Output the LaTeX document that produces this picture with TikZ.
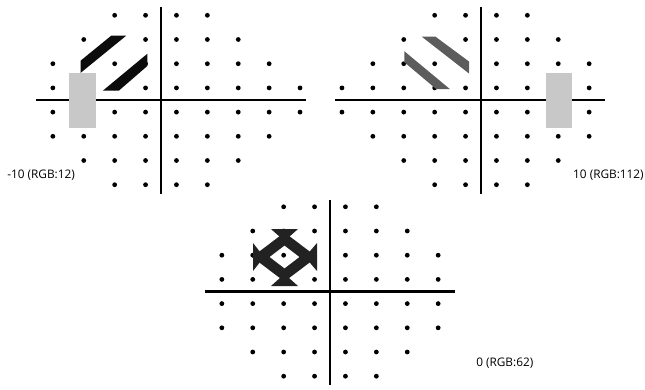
\documentclass[tikz,border=0pt]{standalone}
\usepackage{fontspec}
\setmainfont{Open Sans}
\usepackage{xcolor}
\usepackage{tikz}
\definecolor{VFBlack} {HTML}{0C0C0C}
\definecolor{VFMid}   {HTML}{5C5C5C}
\definecolor{VFDark}  {HTML}{222222}
\definecolor{VFPatch} {HTML}{C8C8C8}

\begin{document}
\begin{tikzpicture}[x=0.025cm,y=-0.025cm,
    ax/.style={line width=1.5pt,black},
    pt/.style={fill=black},
    lbl/.style={font=\fontsize{8.4}{9}\selectfont,inner sep=0pt,text=black}
  ]
    \useasboundingbox (0,0) rectangle (645,389);
    % dot grids of the three fields
    \foreach \cx/\cy in {161/100,481/100,330/291.5}{
      \foreach \j/\lo/\hi in {-3/-1/2,-2/-2/3,-1/-3/4,0/-3/4,1/-3/4,2/-3/4,3/-2/3,4/-1/2}
        \foreach \i in {\lo,...,\hi}
          \fill[pt] ({\cx+(\i-0.5)*30.9},{\cy+(\j-0.5)*24.2}) circle (2.4);
    }
    \foreach \cx/\i in {161/5,481/-4}
      \foreach \j in {0,1}
        \fill[pt] ({\cx+(\i-0.5)*30.9},{100+(\j-0.5)*24.2}) circle (2.4);
    % axes
    \foreach \cx/\cy/\l/\r/\t/\b in {161/100/35.7/306/7/194,
                                   481/100/335/605/7/194,
                                   330/291.5/205/455/200/385}{
      \draw[ax] (\l,\cy) -- (\r,\cy);
      \draw[ax] (\cx,\t) -- (\cx,\b);
    }
    % -10 : black grating + patch
    \fill[VFBlack] (111.2,35.7) -- (126.2,35.7) -- (80.7,72.8) -- (80.7,60.6) -- cycle;
    \fill[VFBlack] (147.3,53.8) -- (147.3,66) -- (118.8,90.7) -- (102.8,90.7) -- cycle;
    \fill[VFPatch] (69.3,72.7) rectangle (96,128.3);
    % 10 : grey grating + patch
    \fill[VFMid] (421.8,36.7) -- (435.5,36.7) -- (469,61.5) -- (469,73.5) -- cycle;
    \fill[VFMid] (404.3,51.2) -- (449.8,89) -- (436.2,89) -- (404.3,62.2) -- cycle;
    \fill[VFPatch] (546,72.7) rectangle (572,128.3);
    % 0 : diamond ring
    \fill[VFDark,even odd rule]
      (284.5,232.5) -- (317,257) -- (284.5,281.5) -- (252,257) -- cycle
      (284.5,245.5) -- (299.5,257) -- (284.5,268.5) -- (269.5,257) -- cycle;
    \fill[VFDark] (271,229) -- (298,229) -- (284.5,241) -- cycle;
    \fill[VFDark] (271,286) -- (298,286) -- (284.5,274) -- cycle;
    \fill[VFDark] (253,243) -- (253,271) -- (264,257) -- cycle;
    \fill[VFDark] (317,243) -- (317,271) -- (305,257) -- cycle;
    % labels
    \node[lbl,anchor=west] (lblneg) at (7,175) {-10 (RGB:12)};
    \node[lbl,anchor=east] (lblpos) at (644,175) {10 (RGB:112)};
    \node[lbl,anchor=west] (lblzero) at (476,363) {0 (RGB:62)};
\end{tikzpicture}
\end{document}
